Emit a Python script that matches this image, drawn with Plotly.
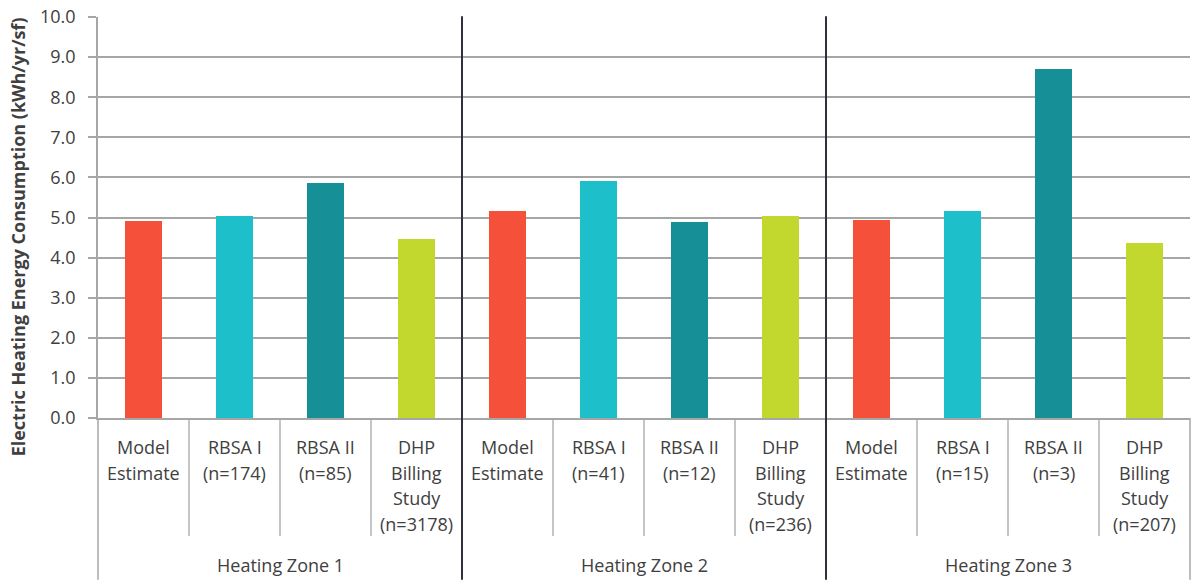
import plotly.graph_objects as go

# Electric heating energy consumption by heating zone and data source
zones = ["Heating Zone 1", "Heating Zone 2", "Heating Zone 3"]
sources = ["Model Estimate", "RBSA I", "RBSA II", "DHP Billing Study"]
source_colors = ["#F5503A", "#1DBFCA", "#178F96", "#C2D82E"]

zone1_values = [4.92, 5.05, 5.86, 4.46]
zone2_values = [5.17, 5.91, 4.88, 5.05]
zone3_values = [4.94, 5.17, 8.70, 4.36]

rbsa1_n = [174, 41, 15]
rbsa2_n = [85, 12, 3]
dhp_n = [3178, 236, 207]

y_ticks = [0, 1, 2, 3, 4, 5, 6, 7, 8, 9, 10]
y_title = "Electric Heating Energy Consumption (kWh/yr/sf)"

TEXT = "#404040"
GRID = "#A6A6A6"
DARK = "#30303C"
FONT = "Open Sans"

W, H = 1194, 581
L, R, T, B = 98, 4, 14, 163
plot_h = H - T - B


def py(pixel_y):
    """Convert a pixel row to paper y."""
    return (H - B - pixel_y) / plot_h


zone_values = [zone1_values, zone2_values, zone3_values]

x_pos, y_vals, colors, label_lines = [], [], [], []
for z, vals in enumerate(zone_values):
    for s, v in enumerate(vals):
        x_pos.append(z * len(sources) + s)
        y_vals.append(v)
        colors.append(source_colors[s])
        if s == 0:
            lines = ["Model", "Estimate"]
        elif s == 1:
            lines = ["RBSA I", f"(n={rbsa1_n[z]})"]
        elif s == 2:
            lines = ["RBSA II", f"(n={rbsa2_n[z]})"]
        else:
            lines = ["DHP", "Billing", "Study", f"(n={dhp_n[z]})"]
        label_lines.append(lines)

n_cat = len(x_pos)

fig = go.Figure(
    go.Bar(
        x=x_pos,
        y=y_vals,
        width=0.4,
        marker=dict(color=colors, line=dict(width=0)),
        hoverinfo="y",
    )
)

annotations = []
# category labels, one annotation per text line
for xi, lines in zip(x_pos, label_lines):
    for i, line in enumerate(lines):
        annotations.append(dict(
            x=xi, xref="x", y=py(447 + 26 * i), yref="paper",
            text=line, showarrow=False, xanchor="center", yanchor="middle",
            font=dict(family=FONT, size=18, color=TEXT),
        ))
# zone labels
for z, name in enumerate(zones):
    annotations.append(dict(
        x=z * len(sources) + (len(sources) - 1) / 2, xref="x",
        y=py(566), yref="paper",
        text=name, showarrow=False, xanchor="center", yanchor="middle",
        font=dict(family=FONT, size=18, color=TEXT),
    ))
# y-axis title
annotations.append(dict(
    x=(18 - L) / (W - L - R), xref="paper", y=py(236), yref="paper",
    text=f"<b>{y_title}</b>", textangle=-90, showarrow=False,
    xanchor="center", yanchor="middle",
    font=dict(family=FONT, size=18, color=TEXT),
))

shapes = []
# short dividers between categories inside a zone
for k in range(n_cat - 1):
    if (k + 1) % len(sources) == 0:
        continue
    shapes.append(dict(
        type="line", xref="x", yref="paper", x0=k + 0.5, x1=k + 0.5,
        y0=0, y1=py(537), line=dict(color=GRID, width=1.3),
    ))
# dark separators between zones
for z in range(1, len(zones)):
    xs = z * len(sources) - 0.5
    shapes.append(dict(
        type="line", xref="x", yref="paper", x0=xs, x1=xs,
        y0=1.002, y1=py(H), line=dict(color=DARK, width=2),
    ))
# outer group borders below the axis
for xp in (0, 1):
    shapes.append(dict(
        type="line", xref="paper", yref="paper", x0=xp, x1=xp,
        y0=0, y1=py(H), line=dict(color=GRID, width=1.5),
    ))

fig.update_layout(
    width=W, height=H,
    margin=dict(l=L, r=R, t=T, b=B, pad=0),
    plot_bgcolor="white", paper_bgcolor="white",
    showlegend=False,
    bargap=0,
    font=dict(family=FONT, color=TEXT),
    xaxis=dict(
        range=[-0.5, n_cat - 0.5], showticklabels=False, ticks="",
        showgrid=False, zeroline=False, showline=True,
        linecolor=GRID, linewidth=1.5, fixedrange=True,
    ),
    yaxis=dict(
        range=[0, 10], tickvals=y_ticks,
        ticktext=[f"{v:.1f}" for v in y_ticks],
        ticks="outside", ticklen=8, tickcolor=GRID, tickwidth=1.5,
        ticklabelstandoff=9,
        tickfont=dict(family=FONT, size=18, color=TEXT),
        showgrid=True, gridcolor=GRID, gridwidth=1.5,
        zeroline=False, showline=True, linecolor=GRID, linewidth=1.5,
        fixedrange=True,
    ),
    annotations=annotations,
    shapes=shapes,
)

fig.write_html("out.html")
